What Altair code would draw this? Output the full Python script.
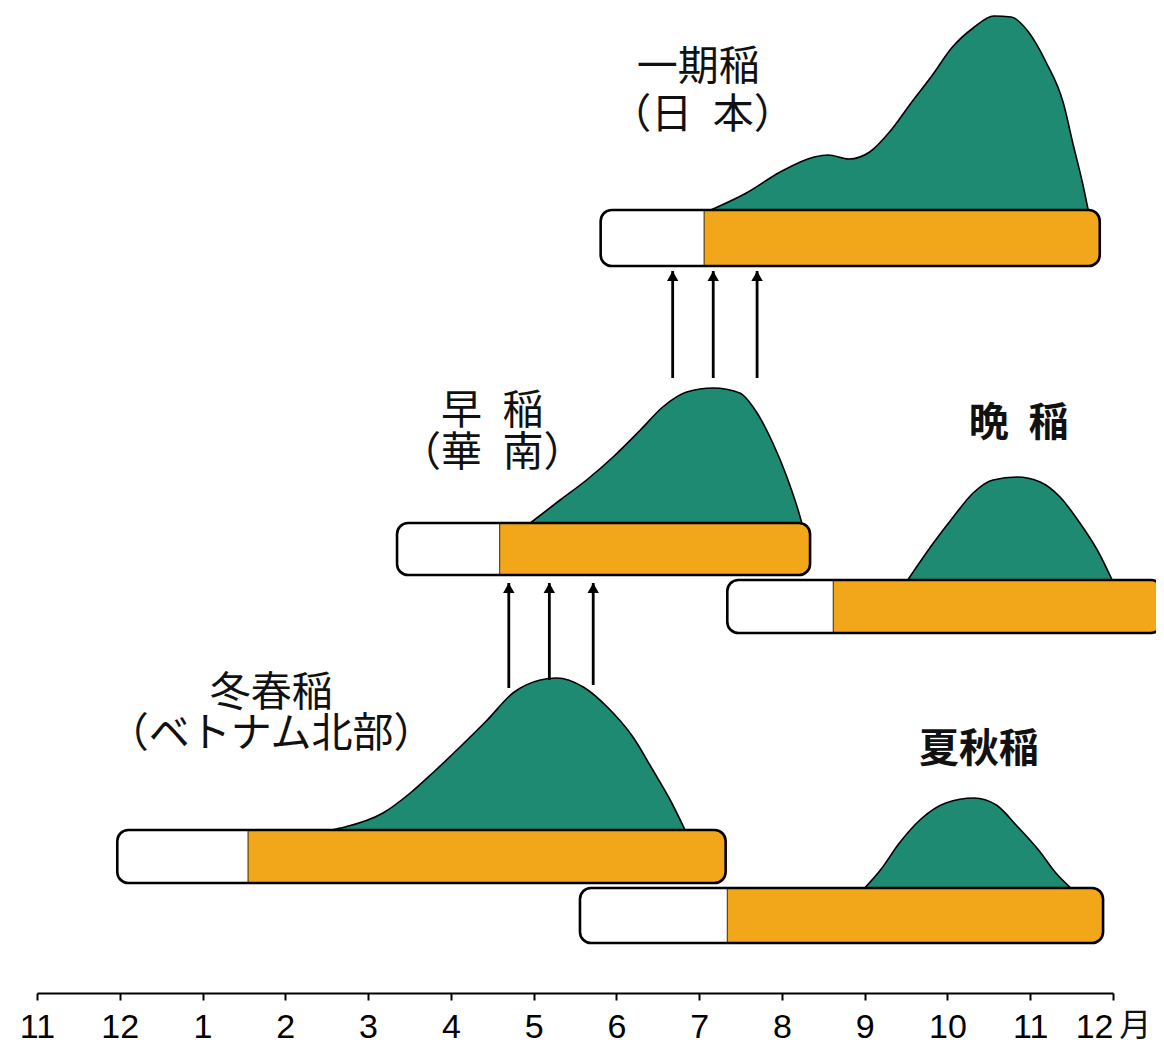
import altair as alt
import pandas as pd

# x axis: months counted from November of the previous year (0 = Nov, 1 = Dec, 2 = Jan, ... 13 = Dec)
month_labels = ["11", "12", "1", "2", "3", "4", "5", "6", "7", "8", "9", "10", "11", "12"]

# Growing periods: nursery (white) from start to split, field (orange) from split to end
crops      = ["冬春稲", "早稲", "一期稲", "晩稲", "夏秋稲"]
bar_start  = [0.97, 4.35, 6.81, 8.34, 6.56]
bar_split  = [2.55, 5.59, 8.06, 9.62, 8.34]
bar_end    = [8.32, 9.34, 12.84, 13.59, 12.88]
row_low    = [110, 418, 727, 360, 50]
row_high   = [163, 470, 783, 413, 105]

# Curves (height above each bar)
dongchun_x = [3.55, 3.72, 4.18, 4.51, 4.78, 5.11, 5.44, 5.75, 6.08, 6.28, 6.60, 6.89, 7.20, 7.44, 7.65, 7.83]
dongchun_h = [0, 3, 17, 37, 57, 83, 110, 137, 150, 152, 143, 123, 93, 60, 30, 0]

zaodao_x = [5.96, 6.32, 6.64, 6.96, 7.29, 7.56, 7.85, 8.17, 8.49, 8.70, 8.89, 9.06, 9.22, 9.24]
zaodao_h = [0, 23, 43, 66, 93, 116, 131, 135, 130, 110, 80, 46, 6, 0]

ichiki_x = [8.14, 8.57, 8.98, 9.39, 9.56, 9.81, 10.06, 10.31, 10.56, 10.81, 11.05, 11.31,
            11.56, 11.77, 11.97, 12.19, 12.40, 12.52, 12.64, 12.70]
ichiki_h = [0, 17, 38, 53, 55, 51, 58, 79, 107, 134, 162, 182, 194, 193, 179, 148, 107, 65, 24, 0]

bandao_x = [10.52, 10.83, 11.07, 11.31, 11.55, 11.84, 12.12, 12.36, 12.60, 12.81, 12.99]
bandao_h = [0, 37, 63, 87, 100, 103, 98, 83, 57, 30, 0]

xiaqiu_x = [10.00, 10.20, 10.41, 10.68, 10.98, 11.32, 11.59, 11.84, 12.11, 12.31, 12.49]
xiaqiu_h = [0, 19, 44, 69, 85, 90, 83, 62, 37, 15, 0]

# Arrows
arrow_x    = [5.70, 6.19, 6.72, 7.68, 8.17, 8.70]
arrow_from = [305, 313, 308, 615, 615, 615]
arrow_to   = [410, 410, 410, 722, 722, 722]

# Labels
label_text = ["一期稲", "（日\u2002本）", "早\u2002稲", "（華\u2002南）", "冬春稲", "（ベトナム北部）"]
label_x    = [7.99, 8.04, 5.50, 5.50, 2.83, 2.83]
label_y    = [925, 877, 581, 539, 299, 258]

bold_text = ["晩\u2002稲", "夏秋稲"]
bold_x    = [11.86, 11.38]
bold_y    = [569, 243]

unit_text = ["月"]
unit_x    = [13.27]
unit_y    = [-33]

TEAL = "#1e8a72"
ORANGE = "#f2a71a"
CJK = "Noto Sans CJK JP"

bars = pd.DataFrame({"crop": crops, "start": bar_start, "split": bar_split, "end": bar_end,
                     "low": row_low, "high": row_high})

curve_sets = [(dongchun_x, dongchun_h), (zaodao_x, zaodao_h), (ichiki_x, ichiki_h),
              (bandao_x, bandao_h), (xiaqiu_x, xiaqiu_h)]
rows = []
for crop, high, (xs, hs) in zip(crops, row_high, curve_sets):
    for xv, hv in zip(xs, hs):
        rows.append({"crop": crop, "x": xv, "top": high + hv, "base": high})
curves = pd.DataFrame(rows)

arrows = pd.DataFrame({"x": arrow_x, "y0": arrow_from, "y1": arrow_to})
labels = pd.DataFrame({"text": label_text, "x": label_x, "y": label_y})
blabels = pd.DataFrame({"text": bold_text, "x": bold_x, "y": bold_y})
units = pd.DataFrame({"text": unit_text, "x": unit_x, "y": unit_y})

label_expr = "[" + ",".join("'%s'" % s for s in month_labels) + "][datum.value]"
last_tick = len(month_labels) - 1

xscale = alt.Scale(domain=[0, 13], nice=False, zero=False)
yscale = alt.Scale(domain=[0, 985], nice=False, zero=False)

xaxis = alt.Axis(values=list(range(len(month_labels))), labelExpr=label_expr, title=None,
                 grid=False, domainColor="black", domainWidth=2, tickColor="black",
                 tickWidth=2, tickSize=7, labelFontSize=34, labelFont="Liberation Sans",
                 labelColor="black", labelPadding=10, labelFlush=False, labelOverlap=False,
                 labelAlign=alt.condition("datum.value == %d" % last_tick,
                                          alt.value("right"), alt.value("center")))

base_x = alt.X("x:Q", scale=xscale, axis=xaxis)

area = alt.Chart(curves).mark_area(
    color=TEAL, interpolate="monotone", stroke="black", strokeWidth=1.6, opacity=1
).encode(
    x=base_x,
    y=alt.Y("top:Q", scale=yscale, axis=None),
    y2="base:Q",
    detail="crop:N",
)

white_bar = alt.Chart(bars).mark_rect(color="white", cornerRadius=11).encode(
    x=alt.X("start:Q", scale=xscale, axis=xaxis), x2="end:Q",
    y=alt.Y("low:Q", scale=yscale, axis=None), y2="high:Q",
)

orange_bar = alt.Chart(bars).mark_rect(
    color=ORANGE, cornerRadiusTopRight=11, cornerRadiusBottomRight=11,
    stroke="#3a2a00", strokeWidth=1
).encode(
    x=alt.X("split:Q", scale=xscale, axis=xaxis), x2="end:Q",
    y=alt.Y("low:Q", scale=yscale, axis=None), y2="high:Q",
)

outline = alt.Chart(bars).mark_rect(
    fill=None, filled=False, stroke="black", strokeWidth=2.6, cornerRadius=11
).encode(
    x=alt.X("start:Q", scale=xscale, axis=xaxis), x2="end:Q",
    y=alt.Y("low:Q", scale=yscale, axis=None), y2="high:Q",
)

shafts = alt.Chart(arrows).mark_rule(color="black", strokeWidth=2.8).encode(
    x=alt.X("x:Q", scale=xscale, axis=xaxis),
    y=alt.Y("y0:Q", scale=yscale, axis=None), y2="y1:Q",
)

heads = alt.Chart(arrows).mark_point(
    shape="triangle-up", filled=True, color="black", size=130, opacity=1, yOffset=5
).encode(
    x=alt.X("x:Q", scale=xscale, axis=xaxis),
    y=alt.Y("y1:Q", scale=yscale, axis=None),
)

texts = alt.Chart(labels).mark_text(
    font=CJK, fontSize=41, color="#111111", align="center", baseline="middle"
).encode(
    x=alt.X("x:Q", scale=xscale, axis=xaxis),
    y=alt.Y("y:Q", scale=yscale, axis=None),
    text="text:N",
)

btexts = alt.Chart(blabels).mark_text(
    font=CJK, fontSize=40, fontWeight="bold", color="#111111", align="center", baseline="middle"
).encode(
    x=alt.X("x:Q", scale=xscale, axis=xaxis),
    y=alt.Y("y:Q", scale=yscale, axis=None),
    text="text:N",
)

utext = alt.Chart(units).mark_text(
    font=CJK, fontSize=32, color="#111111", align="center", baseline="middle"
).encode(
    x=alt.X("x:Q", scale=xscale, axis=xaxis),
    y=alt.Y("y:Q", scale=yscale, axis=None),
    text="text:N",
)

chart = alt.layer(area, white_bar, orange_bar, outline, shafts, heads, texts, btexts, utext).properties(
    width=1076, height=985,
    autosize=alt.AutoSizeParams(type="none"),
    padding={"left": 29, "top": 0, "right": 43, "bottom": 52},
    background="white",
).configure_view(stroke=None)

chart.save("out.html", embed_options={"renderer": "svg", "actions": False})
